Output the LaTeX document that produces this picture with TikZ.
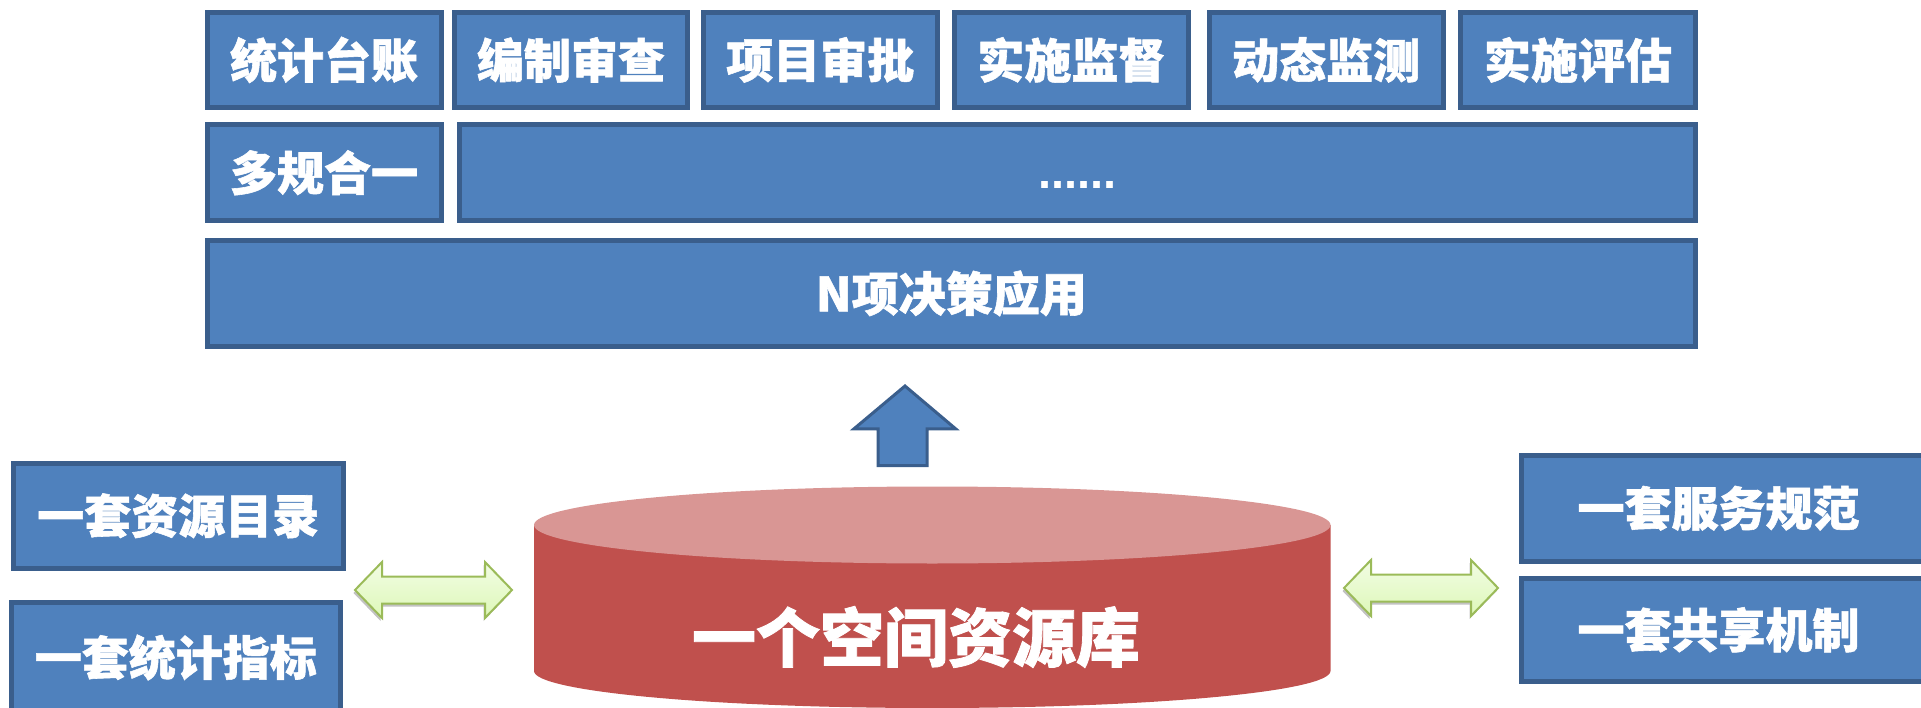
\documentclass[tikz,border=0pt]{standalone}
\usepackage{fontspec}
\newfontfamily\cjk{Noto Sans CJK SC}[BoldFeatures={FakeBold=1.2}]
\newfontfamily\latb{Liberation Sans}
\usetikzlibrary{shadows}
\definecolor{blu}{HTML}{4F81BD}
\definecolor{bdr}{HTML}{3A5E8C}
\definecolor{cylred}{HTML}{C0504D}
\definecolor{cyltop}{HTML}{D99694}
\definecolor{grnb}{HTML}{9BBB59}
\definecolor{grnt}{HTML}{F2FCE4}
\definecolor{grnm}{HTML}{DDF8B8}
\tikzset{
  box/.style={draw=bdr,fill=blu,line width=5pt,text=white,inner sep=0pt,outer sep=0pt,
    font=\cjk\bfseries\fontsize{47}{47}\selectfont},
  dbl/.style={draw=grnb,line width=2pt,top color=grnt,bottom color=grnm,
    drop shadow={shadow xshift=-1.5pt,shadow yshift=-3pt,fill=black!40,opacity=0.6}},
  uparr/.style={draw=bdr,fill=blu,line width=3pt,line join=miter},
}
\newcommand\mybox[6]{\node[box,minimum width={#4-#2-5},minimum height={#5-#3-5}] (#1) at ({(#2+#4)/2},{(#3+#5)/2}) {#6};}
\begin{document}
\begin{tikzpicture}[x=1pt,y=-1pt]
\useasboundingbox (0,0) rectangle (1921,708);
% top row
\mybox{a1}{204.6}{9.8}{443.5}{110}{统计台账}
\mybox{a2}{452}{9.8}{690}{110}{编制审查}
\mybox{a3}{700.8}{9.8}{939.7}{110}{项目审批}
\mybox{a4}{952}{9.8}{1190.8}{110}{实施监督}
\mybox{a5}{1206.7}{9.8}{1445.6}{110}{动态监测}
\mybox{a6}{1457.9}{9.8}{1698}{110}{实施评估}
% second row
\mybox{b1}{204.6}{122.5}{443.5}{223}{多规合一}
\mybox{b2}{457}{122.5}{1698}{223}{\latb\bfseries\raisebox{0pt}[0.75em][0.1em]{......}}
% third row
\mybox{c1}{204.6}{237.7}{1698}{349.2}{N项决策应用}
% up arrow
\coordinate (ua) at (905,386);
\draw[uparr] (ua) -- (854,428.8) -- (878,428.8) -- (878,465.5) -- (927,465.5) -- (927,428.8) -- (955.6,428.8) -- cycle;
% left boxes
\mybox{l1}{11}{460.6}{345.5}{571}{一套资源目录}
\mybox{l2}{8.6}{600}{343}{715}{一套统计指标}
% right boxes
\mybox{r1}{1519}{453}{1930}{563.5}{\hspace*{-12pt}一套服务规范}
\mybox{r2}{1519}{576}{1930}{683.6}{\hspace*{-12pt}一套共享机制}
% cylinder
\fill[cylred] (534,525) -- (534,671) arc[start angle=180,end angle=0,x radius=398.25,y radius=37] -- (1330.5,525) -- cycle;
\fill[cyltop] (932.25,525) ellipse[x radius=398.25,y radius=38.5];
\node[text=white,font=\cjk\bfseries\fontsize{64}{64}\selectfont] (db) at (916,637) {一个空间资源库};
% left double arrow
\path[dbl] (355,590) -- (382,562) -- (382,576.5) -- (485,576.5) -- (485,562) -- (512,590) -- (485,618) -- (485,603.5) -- (382,603.5) -- (382,618) -- cycle;
% right double arrow
\path[dbl] (1344,588) -- (1371,560) -- (1371,574.5) -- (1471,574.5) -- (1471,560) -- (1498,588) -- (1471,616) -- (1471,601.5) -- (1371,601.5) -- (1371,616) -- cycle;
\end{tikzpicture}
\end{document}
